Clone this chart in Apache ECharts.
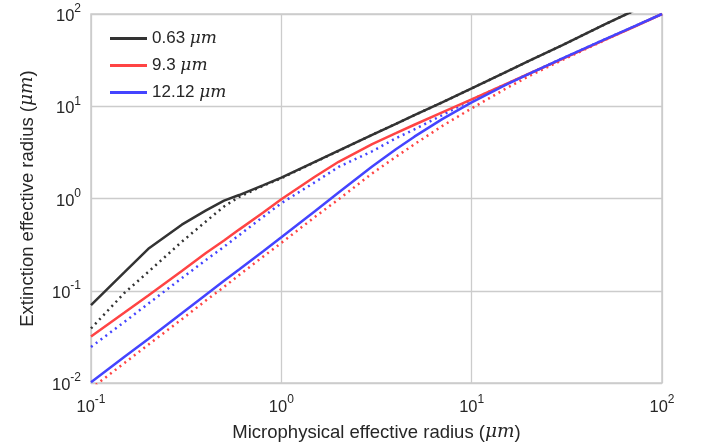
<!doctype html>
<html>
<head>
<meta charset="UTF-8">
<title>Extinction vs microphysical effective radius</title>
<script src="https://cdn.jsdelivr.net/npm/echarts@6/dist/echarts.min.js"></script>
<style>
  html, body { margin: 0; padding: 0; background: #fff; }
  #chart { width: 702px; height: 448px; }
</style>
</head>
<body>
<div id="chart"></div>
<script>
// microphysical effective radius (um), shared by all curves
var radius = [0.1, 0.15, 0.2, 0.3, 0.4, 0.5, 0.6, 0.8, 1, 1.5, 2, 3, 4, 5, 7, 10, 15, 20, 30, 50, 70, 100];

// extinction effective radius, solid = first method, dotted = second method
var black_solid = [0.070, 0.159, 0.285, 0.52, 0.74, 0.95, 1.09, 1.39, 1.68, 2.50, 3.3, 4.9, 6.45, 8.0, 11.0, 15.6, 23.3, 31, 46, 77, 107, 152];
var black_dot   = [0.039, 0.095, 0.16, 0.34, 0.56, 0.82, 1.04, 1.37, 1.66, 2.48, 3.28, 4.9, 6.45, 8.0, 11.0, 15.6, 23.3, 31, 46, 77, 107, 152];
var red_solid   = [0.032, 0.058, 0.089, 0.164, 0.255, 0.35, 0.46, 0.70, 0.98, 1.72, 2.5, 3.89, 5.1, 6.3, 8.6, 11.9, 17.3, 22.5, 32.7, 52.3, 71.3, 100];
var red_dot     = [0.0087, 0.0165, 0.026, 0.049, 0.078, 0.11, 0.148, 0.233, 0.33, 0.63, 0.98, 1.87, 2.83, 3.87, 6.1, 9.5, 15.4, 21.2, 31.8, 52, 72, 100];
var blue_solid  = [0.0102, 0.0193, 0.030, 0.057, 0.090, 0.128, 0.17, 0.267, 0.38, 0.727, 1.16, 2.22, 3.42, 4.68, 7.25, 11.0, 16.9, 22.4, 33, 53, 72, 100];
var blue_dot    = [0.0246, 0.046, 0.0725, 0.137, 0.214, 0.30, 0.40, 0.63, 0.89, 1.5, 2.2, 3.25, 4.5, 5.6, 8.0, 11.8, 17.2, 22.5, 33, 53, 72, 100];

var wavelengths = ['0.63', '9.3', '12.12'];
var colors = ['#333333', '#ff4444', '#4444ff'];

function pairs(ys) {
  var out = [];
  for (var i = 0; i < radius.length; i++) out.push([radius[i], ys[i]]);
  return out;
}

function powLabel(v) {
  var e = Math.round(Math.log(v) / Math.LN10);
  return '{b|10}{e|' + e + '}';
}

var tickRich = {
  b: { fontSize: 16.5, color: '#262626', fontFamily: 'Liberation Sans', lineHeight: 22, verticalAlign: 'bottom' },
  e: { fontSize: 12, color: '#262626', fontFamily: 'Liberation Sans', lineHeight: 12, verticalAlign: 'top' }
};
var nameRich = {
  t: { fontSize: 18.5, color: '#262626', fontFamily: 'Liberation Sans' },
  i: { fontSize: 18.5, color: '#262626', fontFamily: 'DejaVu Serif', fontStyle: 'italic' }
};

function lineSeries(name, ys, color, dotted) {
  return {
    name: name,
    type: 'line',
    data: pairs(ys),
    showSymbol: false,
    symbol: 'none',
    clip: true,
    z: dotted ? 2 : 3,
    lineStyle: {
      color: color,
      width: 2.5,
      type: dotted ? [2, 4] : 'solid',
      cap: 'butt'
    },
    itemStyle: { color: color }
  };
}

var myChart = echarts.init(document.getElementById('chart'));

var option = {
  animation: false,
  backgroundColor: '#ffffff',
  grid: {
    left: 91, right: 40, top: 14, bottom: 65,
    show: true,
    borderColor: '#cccccc',
    borderWidth: 1.5,
    backgroundColor: 'transparent'
  },
  legend: {
    orient: 'vertical',
    left: 105,
    top: 25,
    itemWidth: 37,
    itemHeight: 3,
    itemGap: 10,
    icon: 'rect',
    data: wavelengths,
    formatter: function (name) { return '{t|' + name + ' }{i|μm}'; },
    textStyle: {
      rich: {
        t: { fontSize: 17, color: '#262626', fontFamily: 'Liberation Sans', lineHeight: 20 },
        i: { fontSize: 17, color: '#262626', fontFamily: 'DejaVu Serif', fontStyle: 'italic', lineHeight: 20 }
      }
    }
  },
  xAxis: {
    type: 'log',
    logBase: 10,
    min: 0.1,
    max: 100,
    name: '{t|Microphysical effective radius (}{i|μm}{t|)}',
    nameLocation: 'middle',
    nameGap: 40,
    nameTextStyle: { rich: nameRich },
    axisLine: { show: false },
    axisTick: { show: false },
    axisLabel: { margin: 11, formatter: powLabel, rich: tickRich },
    splitLine: { show: true, lineStyle: { color: '#cccccc', width: 1.3 } }
  },
  yAxis: {
    type: 'log',
    logBase: 10,
    min: 0.01,
    max: 100,
    name: '{t|Extinction effective radius (}{i|μm}{t|)}',
    nameLocation: 'middle',
    nameRotate: 90,
    nameGap: 54,
    nameTextStyle: { rich: nameRich },
    axisLine: { show: false },
    axisTick: { show: false },
    axisLabel: { margin: 10, formatter: powLabel, rich: tickRich },
    splitLine: { show: true, lineStyle: { color: '#cccccc', width: 1.3 } }
  },
  series: [
    lineSeries('0.63', black_solid, colors[0], false),
    lineSeries('9.3', red_solid, colors[1], false),
    lineSeries('12.12', blue_solid, colors[2], false),
    lineSeries('0.63 dotted', black_dot, colors[0], true),
    lineSeries('9.3 dotted', red_dot, colors[1], true),
    lineSeries('12.12 dotted', blue_dot, colors[2], true)
  ]
};

myChart.setOption(option);
</script>
</body>
</html>
